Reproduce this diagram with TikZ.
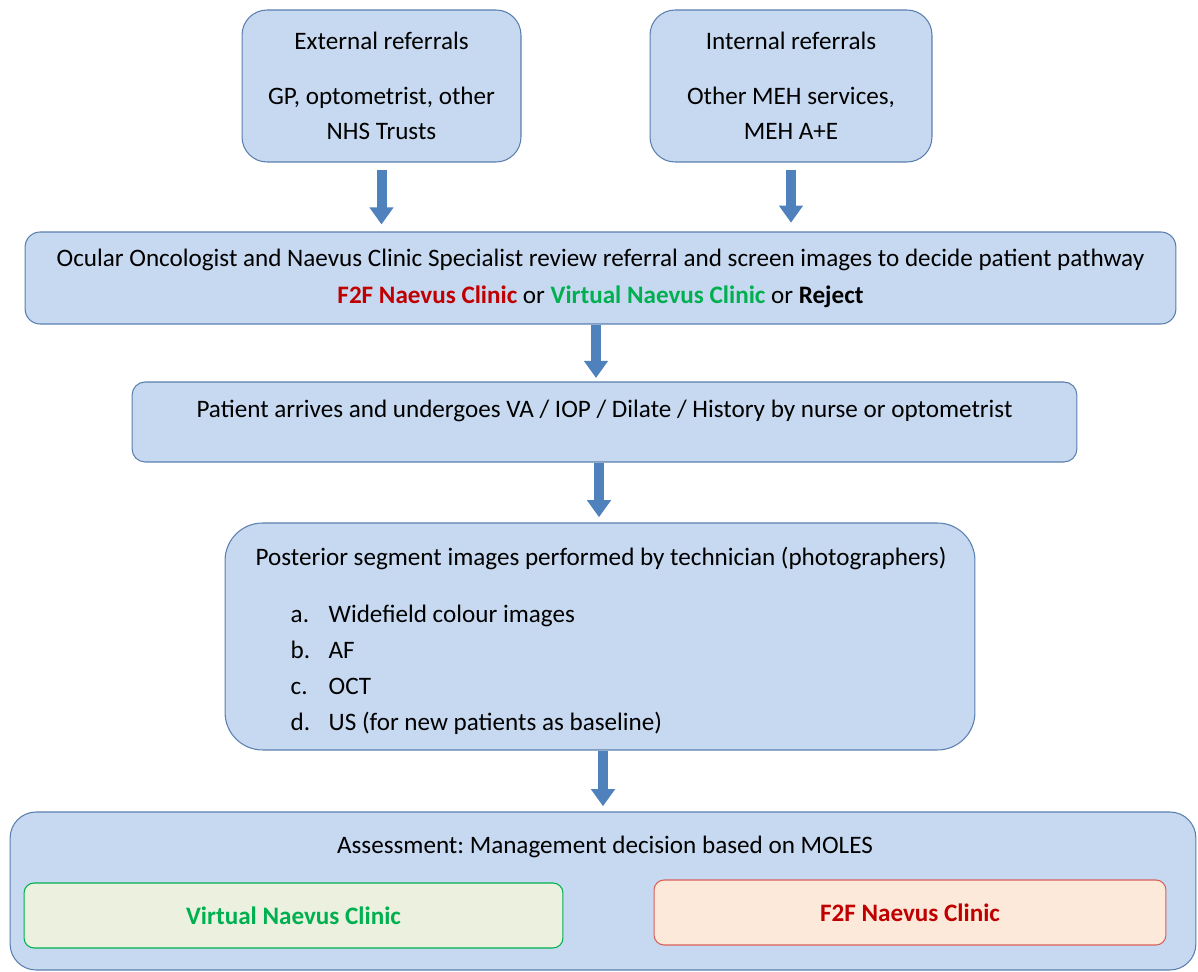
\documentclass[tikz,border=0pt]{standalone}
\usepackage{fontspec}
\setmainfont{Carlito}
\usetikzlibrary{arrows.meta}
\definecolor{boxblue}{HTML}{C6D9F0}
\definecolor{lineblue}{HTML}{5A7FAE}
\definecolor{arrowblue}{HTML}{4F81BD}
\definecolor{darkred}{HTML}{C00000}
\definecolor{brightgreen}{HTML}{00B050}
\definecolor{palegreen}{HTML}{EBF1DE}
\definecolor{palered}{HTML}{FDE9D9}
\definecolor{redline}{HTML}{D9605A}
\frenchspacing
\begin{document}
\begin{tikzpicture}[x=0.02cm, y=-0.02cm]
	\tikzstyle{Box} = [rectangle, draw=lineblue, fill=boxblue, line width=0.6pt, align=center, inner sep=0pt]
	\tikzstyle{arrow} = [draw=arrowblue, line width=0.2cm, -{Triangle[width=0.46cm, length=0.34cm]}]
	\fontsize{14.3}{20}\selectfont
	\useasboundingbox (0,0) rectangle (1198,972);

	\node (ext) [Box, rounded corners=0.5cm, minimum width=5.58cm, minimum height=3.04cm] at (381.5,86)
		{External referrals\\[0.4cm]GP, optometrist, other\\NHS Trusts};
	\node (int) [Box, rounded corners=0.5cm, minimum width=5.64cm, minimum height=3.04cm] at (791,86)
		{Internal referrals\\[0.4cm]Other MEH services,\\MEH A+E};
	\node (review) [Box, rounded corners=0.3cm, minimum width=23.02cm, minimum height=1.84cm] at (600.5,278)
		{Ocular Oncologist and Naevus Clinic Specialist review referral and screen images to decide patient pathway\\[0.04cm]
		{\bfseries\color{darkred}F2F Naevus Clinic} or {\bfseries\color{brightgreen}Virtual Naevus Clinic} or \textbf{Reject}};
	\node (patient) [Box, rounded corners=0.26cm, minimum width=18.9cm, minimum height=1.6cm] at (604.5,422) {};
	\node (patienttext) at (604.5,411) {Patient arrives and undergoes VA / IOP / Dilate / History by nurse or optometrist};
	\node (post) [Box, rounded corners=0.75cm, minimum width=15cm, minimum height=4.54cm] at (600,636.5) {};
	\node (posthead) at (601,558) {Posterior segment images performed by technician (photographers)};
	\node (postlist) [anchor=north west, align=left] at (282,588)
		{\renewcommand{\arraystretch}{1.03}%
		\begin{tabular}{@{}p{0.76cm}@{}l@{}}
			a. & Widefield colour images\\
			b. & AF\\
			c. & OCT\\
			d. & US (for new patients as baseline)
		\end{tabular}};
	\node (assess) [Box, rounded corners=0.52cm, minimum width=23.72cm, minimum height=3.16cm] at (603,891) {};
	\node (assesshead) at (605,847) {Assessment: Management decision based on MOLES};
	\node (virtual) [rectangle, rounded corners=0.2cm, draw=brightgreen, fill=palegreen, line width=0.6pt,
		minimum width=10.78cm, minimum height=1.3cm] at (293.5,915.5)
		{\bfseries\color{brightgreen}Virtual Naevus Clinic};
	\node (f2f) [rectangle, rounded corners=0.2cm, draw=redline, fill=palered, line width=0.6pt,
		minimum width=10.24cm, minimum height=1.3cm] at (910,912.5)
		{\bfseries\color{darkred}F2F Naevus Clinic};

	\draw [arrow, shorten <=4pt, shorten >=4pt] (ext.south) -- (ext.south |- review.north);
	\draw [arrow, shorten <=4pt, shorten >=5pt] (int.south) -- (int.south |- review.north);
	\draw [arrow, shorten >=2pt] ([xshift=-0.09cm]review.south) -- ([xshift=-0.09cm]review.south |- patient.north);
	\draw [arrow, shorten >=3pt] ([xshift=-0.11cm]patient.south) -- ([xshift=-0.11cm]patient.south |- post.north);
	\draw [arrow, shorten >=3pt] ([xshift=0.06cm]post.south) -- ([xshift=0.06cm]post.south |- assess.north);
\end{tikzpicture}
\end{document}
